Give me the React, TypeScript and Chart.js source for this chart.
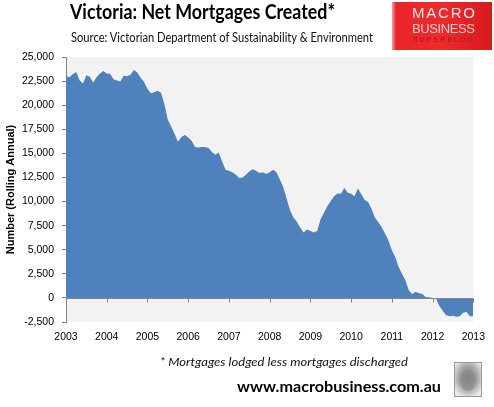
import React, { useEffect, useRef } from 'react';
import { Chart, registerables } from 'chart.js';

Chart.register(...registerables);

const START_YEAR = 2003;
const yearLabels = ['2003', '2004', '2005', '2006', '2007', '2008', '2009', '2010', '2011', '2012', '2013'];

// Net mortgages created, rolling annual, monthly Jan 2003 .. Jan 2013
const netMortgages = [
  23000, 22900, 23200, 23450, 22600, 22250, 23100, 22950, 22350, 22900, 23300, 23550,
  23300, 23250, 22700, 22550, 22450, 23050, 23000, 23150, 23650, 23400, 22850, 22400,
  21700, 21250, 21350, 21500, 21300, 20100, 18500, 17800, 17000, 16200, 16700, 16900,
  16650, 16300, 15650, 15600, 15650, 15650, 15550, 15150, 14850, 15100, 14150, 13300,
  13200, 13050, 12800, 12450, 12500, 12780, 13120, 13350, 13200, 12950, 13050, 12850,
  13050, 13300, 13050, 12300, 11500, 10300, 9100, 8350, 7900, 7300, 6800, 7100,
  6950, 6800, 6950, 8150, 8850, 9550, 10050, 10550, 10830, 10800, 11400, 10900,
  10800, 10550, 11350, 10750, 10150, 9950, 9250, 8350, 7850, 7350, 6650, 5950,
  4950, 4250, 3200, 2500, 1800, 800, 380, 630, 480, 400, 70, 70,
  0, -100, -850, -1350, -1800, -1900, -1850, -1950, -1900, -1550, -1450, -1900,
  -1900,
];

const monthLabels = netMortgages.map(
  (_, i) => `${START_YEAR + Math.floor(i / 12)}-${String((i % 12) + 1).padStart(2, '0')}`
);

const Y_MIN = -2500;
const Y_MAX = 25000;
const Y_STEP = 2500;

const AXIS_GREY = '#868686';

const plotBg = {
  id: 'plotBg',
  beforeDraw(chart: any) {
    const { ctx, chartArea: a } = chart;
    ctx.save();
    ctx.fillStyle = '#f2f2f2';
    ctx.fillRect(a.left, a.top, a.right - a.left, a.bottom - a.top);
    ctx.restore();
  },
};

const zeroAxis = {
  id: 'zeroAxis',
  afterDatasetsDraw(chart: any) {
    const { ctx, chartArea: a } = chart;
    const xs = chart.scales.x;
    const ys = chart.scales.y;
    const y0 = Math.round(ys.getPixelForValue(0)) + 0.5;
    ctx.save();
    ctx.strokeStyle = AXIS_GREY;
    ctx.lineWidth = 1;
    ctx.beginPath();
    ctx.moveTo(a.left, y0);
    ctx.lineTo(a.right, y0);
    yearLabels.forEach((_, k) => {
      if (k === 0) return;
      const px = Math.round(xs.getPixelForValue(k * 12)) + 0.5;
      ctx.moveTo(px, y0);
      ctx.lineTo(px, y0 + 4);
    });
    ctx.stroke();
    ctx.restore();
  },
};

function ChartCanvas() {
  const ref = useRef<HTMLCanvasElement | null>(null);
  useEffect(() => {
    if (!ref.current) return;
    const chart = new Chart(ref.current, {
      type: 'line',
      data: {
        labels: monthLabels,
        datasets: [
          {
            data: netMortgages,
            fill: 'origin',
            backgroundColor: '#4f81bd',
            borderColor: '#4f81bd',
            borderWidth: 0,
            pointRadius: 0,
            tension: 0,
          },
        ],
      },
      options: {
        animation: false,
        responsive: false,
        devicePixelRatio: 1,
        layout: { padding: { top: 57, right: 19, bottom: 55, left: 0 } },
        plugins: { legend: { display: false }, tooltip: { enabled: false } },
        scales: {
          x: {
            type: 'category',
            offset: false,
            grid: { display: false, drawTicks: false },
            border: { display: false },
            ticks: {
              autoSkip: false,
              maxRotation: 0,
              minRotation: 0,
              padding: 9,
              color: '#000',
              font: { family: 'Liberation Sans', size: 10.5 },
              callback: (_v: any, i: number) => (i % 12 === 0 ? yearLabels[i / 12] : null),
            },
            afterFit: (s: any) => {
              s.height = 30;
            },
          },
          y: {
            min: Y_MIN,
            max: Y_MAX,
            grid: { drawOnChartArea: false, drawTicks: true, tickLength: 4, color: AXIS_GREY },
            border: { display: true, color: AXIS_GREY },
            ticks: {
              stepSize: Y_STEP,
              padding: 8,
              color: '#000',
              font: { family: 'Liberation Sans', size: 10.5 },
            },
            title: {
              display: true,
              text: 'Number (Rolling Annual)',
              color: '#000',
              font: { family: 'Liberation Sans', size: 11, weight: 'bold' },
              padding: { top: 4, bottom: 4 },
            },
            afterFit: (s: any) => {
              s.width = 66;
            },
          },
        },
      },
      plugins: [plotBg, zeroAxis],
    });
    return () => chart.destroy();
  }, []);
  return <canvas ref={ref} width={494} height={407} style={{ position: 'absolute', left: 0, top: 0 }} />;
}

export default function App() {
  useEffect(() => {
    document.body.style.margin = '0';
  }, []);
  return (
    <div style={{ position: 'fixed', left: 0, top: 0, width: 494, height: 407, background: '#fff', overflow: 'hidden' }}>
      <ChartCanvas />
      <svg width={494} height={407} style={{ position: 'absolute', left: 0, top: 0, pointerEvents: 'none' }}>
        <defs>
          <linearGradient id="logoGrad" x1="0" y1="0" x2="1" y2="0">
            <stop offset="0" stopColor="#f4a0a0" />
            <stop offset="0.04" stopColor="#e8262a" />
            <stop offset="0.5" stopColor="#ee2a2c" />
            <stop offset="1" stopColor="#d81a1e" />
          </linearGradient>
          <radialGradient id="wolfGrad" cx="0.5" cy="0.45" r="0.6">
            <stop offset="0" stopColor="#777" />
            <stop offset="0.6" stopColor="#aaa" />
            <stop offset="1" stopColor="#e8e8e8" />
          </radialGradient>
        </defs>
        <text x={70} y={19} fontFamily="Lato" fontWeight="bold" fontSize={20} fill="#000" textLength={265} lengthAdjust="spacingAndGlyphs">
          Victoria: Net Mortgages Created*
        </text>
        <text x={71} y={42} fontFamily="Lato" fontSize={12.5} fill="#111" textLength={302} lengthAdjust="spacingAndGlyphs">
          Source: Victorian Department of Sustainability &amp; Environment
        </text>
        <rect x={392} y={2} width={100} height={48} fill="url(#logoGrad)" />
        <text x={412} y={18} fontFamily="Liberation Sans" fontSize={15} fill="#fbe9e9" textLength={63} lengthAdjust="spacing">
          MACRO
        </text>
        <text x={412} y={33} fontFamily="Liberation Sans" fontSize={13} fill="#f6c9c9" textLength={63} lengthAdjust="spacing">
          BUSINESS
        </text>
        <text x={413} y={42} fontFamily="Liberation Sans" fontSize={7} fill="#a8141a" textLength={60} lengthAdjust="spacing">
          SUPERBLOG
        </text>
        <text x={160} y={366} fontFamily="Lato" fontStyle="italic" fontSize={12} fill="#111" textLength={248} lengthAdjust="spacingAndGlyphs">
          * Mortgages lodged less mortgages discharged
        </text>
        <text x={237} y={392} fontFamily="Lato" fontWeight="bold" fontSize={15} fill="#000" textLength={204} lengthAdjust="spacingAndGlyphs">
          www.macrobusiness.com.au
        </text>
        <rect x={454.5} y={362.5} width={27} height={34} fill="url(#wolfGrad)" stroke="#999" strokeWidth={1} />
        <ellipse cx={468} cy={380} rx={8} ry={11} fill="#8a8a8a" opacity={0.6} />
      </svg>
    </div>
  );
}
